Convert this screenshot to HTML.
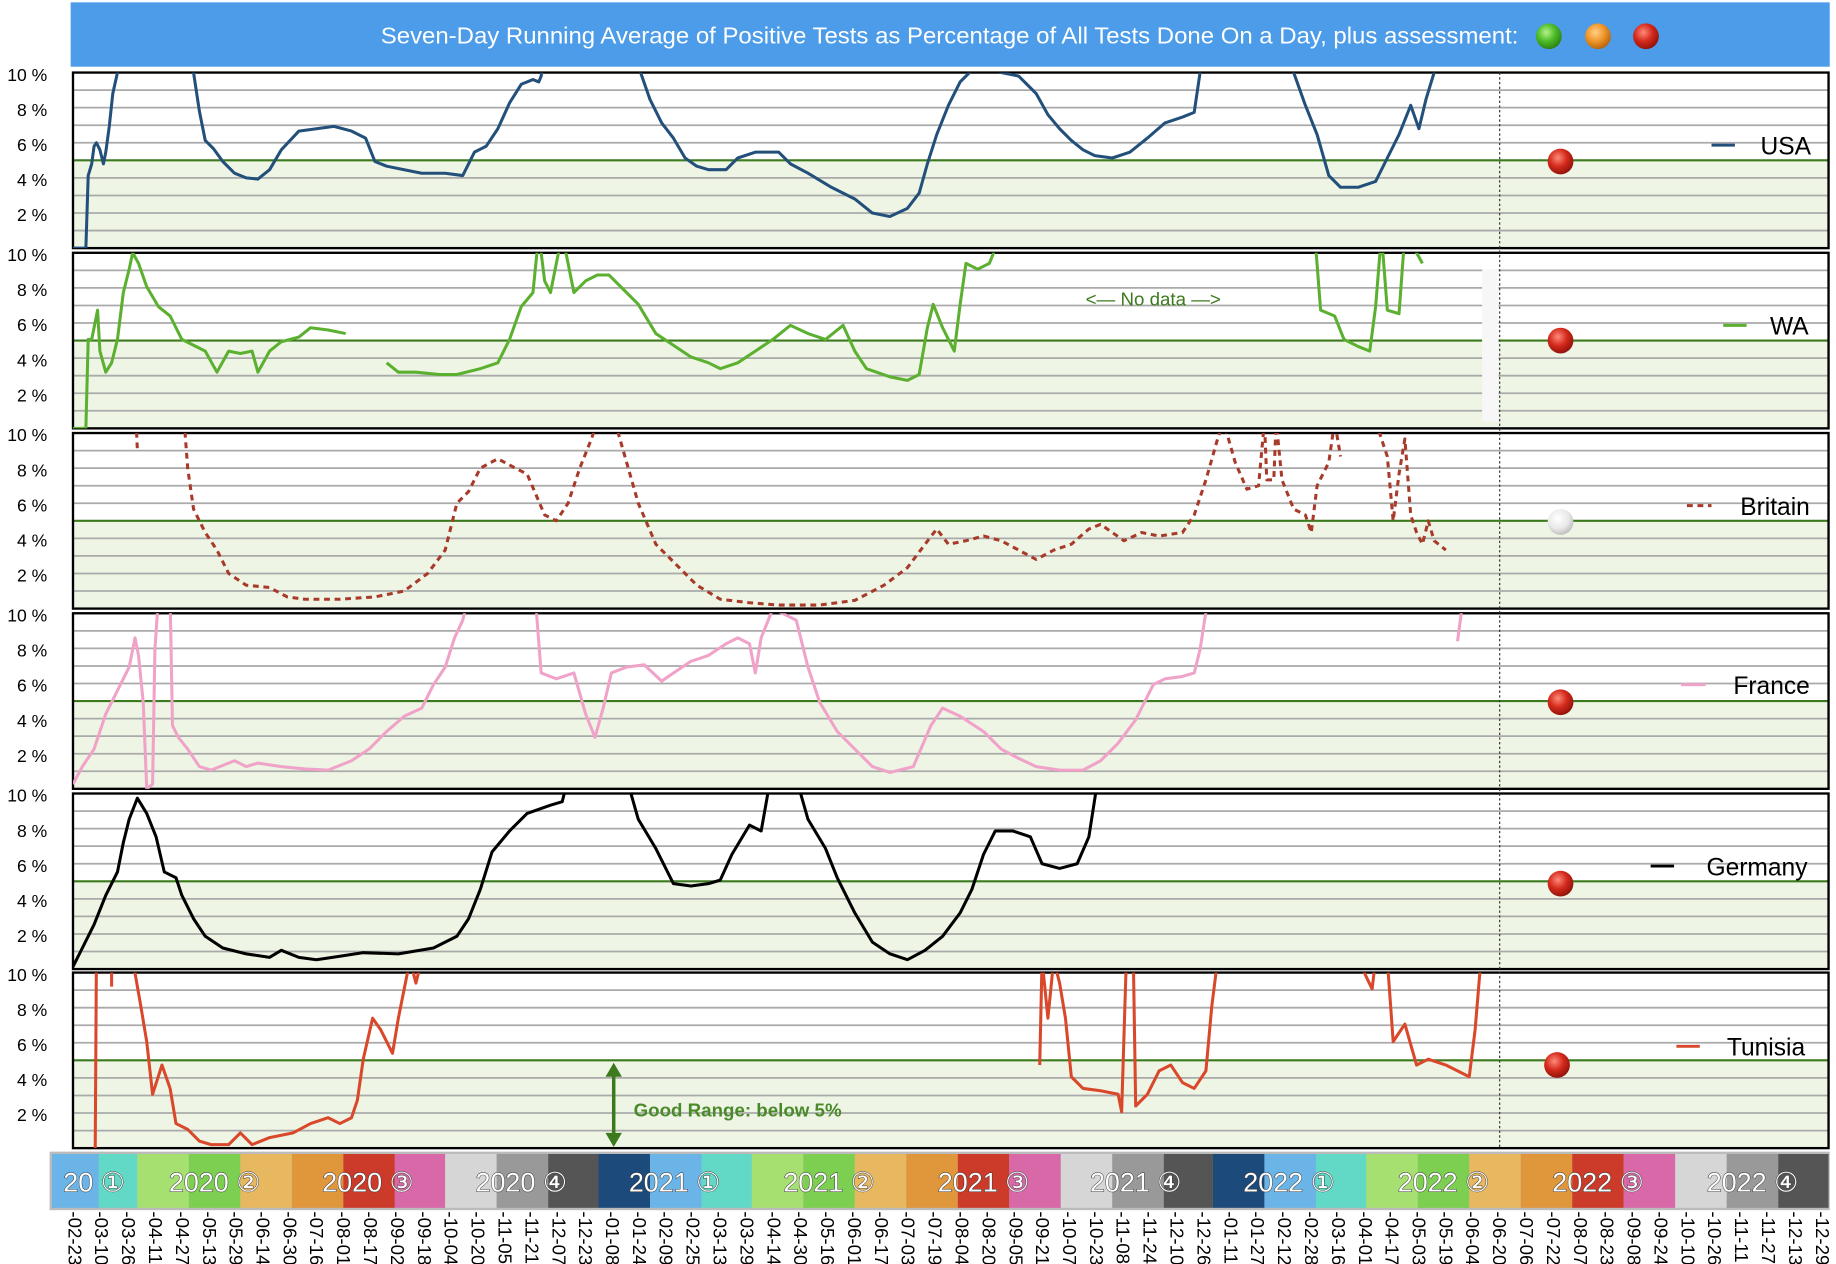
<!DOCTYPE html>
<html><head><meta charset="utf-8"><style>
html,body{margin:0;padding:0;background:#fff;}
svg{display:block;font-family:"Liberation Sans",Arial,sans-serif;}
</style></head><body>
<svg width="1836" height="1264" viewBox="0 0 1568 1080" xmlns="http://www.w3.org/2000/svg">
<defs>
<clipPath id="c0"><rect x="62" y="62" width="1500" height="150"/></clipPath>
<clipPath id="c1"><rect x="62" y="216" width="1500" height="150"/></clipPath>
<clipPath id="c2"><rect x="62" y="370" width="1500" height="150"/></clipPath>
<clipPath id="c3"><rect x="62" y="524" width="1500" height="150"/></clipPath>
<clipPath id="c4"><rect x="62" y="678" width="1500" height="150"/></clipPath>
<clipPath id="c5"><rect x="62" y="831" width="1500" height="150"/></clipPath>
<radialGradient id="rb" cx="0.4" cy="0.35" r="0.7"><stop offset="0" stop-color="#ff8a7a"/><stop offset="0.5" stop-color="#d42a1c"/><stop offset="1" stop-color="#8a1008"/></radialGradient>
<radialGradient id="gb" cx="0.4" cy="0.35" r="0.7"><stop offset="0" stop-color="#b6f28a"/><stop offset="0.5" stop-color="#4cbc28"/><stop offset="1" stop-color="#2a7a10"/></radialGradient>
<radialGradient id="ob" cx="0.4" cy="0.35" r="0.7"><stop offset="0" stop-color="#ffd08a"/><stop offset="0.5" stop-color="#f0962a"/><stop offset="1" stop-color="#b0600a"/></radialGradient>
<radialGradient id="wb" cx="0.4" cy="0.35" r="0.7"><stop offset="0" stop-color="#ffffff"/><stop offset="0.6" stop-color="#e8e8e8"/><stop offset="1" stop-color="#b8b8b8"/></radialGradient>
<g id="panel">
<rect x="62" y="0" width="1500" height="150" fill="#fff"/>
<rect x="62" y="75" width="1500" height="75" fill="#eef5e5"/>
<g stroke="#aaa" stroke-width="1.5">
<line x1="62" x2="1562" y1="15" y2="15"/><line x1="62" x2="1562" y1="30" y2="30"/><line x1="62" x2="1562" y1="45" y2="45"/><line x1="62" x2="1562" y1="60" y2="60"/>
<line x1="62" x2="1562" y1="90" y2="90"/><line x1="62" x2="1562" y1="105" y2="105"/><line x1="62" x2="1562" y1="120" y2="120"/><line x1="62" x2="1562" y1="135" y2="135"/>
</g>
<line x1="62" x2="1562" y1="75" y2="75" stroke="#3c7a1e" stroke-width="1.8"/>
<rect x="62" y="0" width="1500" height="150" fill="none" stroke="#000" stroke-width="2"/>
<g font-size="15" text-anchor="end" fill="#000">
<text x="40" y="7">10 %</text><text x="40" y="37">8 %</text><text x="40" y="67">6 %</text><text x="40" y="97">4 %</text><text x="40" y="127">2 %</text>
</g>
</g>
</defs>

<rect x="60" y="2" width="1503" height="55" fill="#4c9cea"/>
<text x="325" y="37" font-size="20" fill="#fff" textLength="972" lengthAdjust="spacingAndGlyphs">Seven-Day Running Average of Positive Tests as Percentage of All Tests Done On a Day, plus assessment:</text>
<circle cx="1323" cy="31" r="11" fill="url(#gb)"/>
<circle cx="1365" cy="31" r="11" fill="url(#ob)"/>
<circle cx="1406" cy="31" r="11" fill="url(#rb)"/>

<use href="#panel" y="62"/>
<use href="#panel" y="216"/>
<use href="#panel" y="370"/>
<use href="#panel" y="524"/>
<use href="#panel" y="678"/>
<use href="#panel" y="831"/>
<rect x="1266" y="230" width="14" height="130" fill="#f7f7f7"/>
<line x1="1281" y1="62" x2="1281" y2="981" stroke="#333" stroke-width="1" stroke-dasharray="2,2"/>

<g fill="none" stroke-width="2.6" stroke-linejoin="round">
<g clip-path="url(#c0)" stroke="#23507a">
<polyline points="62,212 73,212 75,150 78,140 80,125 82,122 85,128 88,140 90,130 93,108 96,80 100,62 104,40"/>
<polyline points="160,40 165,62 170,95 175,120 182,127 190,138 200,148 210,152 220,153 230,145 240,128 255,112 270,110 285,108 300,112 312,118 320,138 330,142 345,145 360,148 380,148 395,150 405,130 415,125 425,110 435,88 445,72 455,68 460,70 462,65 465,40"/>
<polyline points="540,40 547,62 555,85 565,105 575,118 585,135 595,142 605,145 620,145 630,135 645,130 665,130 675,140 690,148 710,160 730,170 745,182 760,185 775,178 785,165 792,140 800,115 810,90 820,70 828,62 835,40"/>
<polyline points="850,40 855,62 870,65 885,80 895,98 905,110 915,120 925,128 935,133 950,135 965,130 980,118 995,105 1010,100 1020,96 1025,62 1030,40"/>
<polyline points="1100,40 1105,62 1115,90 1125,115 1135,150 1145,160 1160,160 1175,155 1185,135 1195,115 1205,90 1212,110 1218,85 1225,62 1230,40"/>
</g>
<g clip-path="url(#c1)" stroke="#5bb030">
<polyline points="62,366 73,366 75,290 78,290 80,280 83,265 85,300 90,318 95,310 100,290 105,250 110,230 113,216 118,225 125,245 135,262 145,270 155,290 165,295 175,300 185,318 195,300 205,302 215,300 220,318 230,300 240,292 255,288 265,280 280,282 295,285"/>
<polyline points="330,310 340,318 355,318 375,320 390,320 410,315 425,310 435,290 445,262 455,250 460,200 465,240 470,250 480,200 490,250 500,240 510,235 520,235 530,245 545,260 560,285 575,295 590,305 605,310 615,315 630,310 645,300 660,290 675,278 690,285 705,290 720,278 730,300 740,315 760,322 775,325 785,320 792,280 797,260 805,280 815,300 820,260 825,225 835,230 845,225 855,200"/>
<polyline points="1123,200 1128,265 1140,270 1148,290 1160,296 1170,300 1175,262 1180,200 1185,265 1195,268 1200,200 1210,216 1215,225"/>
</g>
<g clip-path="url(#c2)" stroke="#a83a2a" stroke-dasharray="5,4">
<polyline points="116,360 117,385"/>
<polyline points="157,360 160,400 165,435 175,455 185,470 195,490 210,500 230,502 245,510 260,512 290,512 320,510 345,505 365,490 380,470 390,430 400,420 410,400 425,392 440,400 450,405 465,440 475,445 485,430 495,400 505,375 510,360"/>
<polyline points="525,360 535,395 545,430 560,465 575,480 595,500 615,512 640,515 665,517 700,517 730,513 755,500 775,485 790,465 800,452 810,465 825,462 840,458 855,462 870,470 885,478 900,470 915,465 930,452 940,448 950,455 960,462 975,455 990,458 1010,455 1020,440 1030,410 1040,375 1045,360 1055,395 1065,418 1075,415 1080,360 1082,410 1088,410 1090,360 1095,410 1105,435 1115,440 1120,455 1125,415 1135,395 1140,360 1145,390"/>
<polyline points="1175,360 1185,390 1190,445 1195,405 1200,375 1205,440 1210,455 1215,465 1220,445 1225,462 1235,470"/>
</g>
<g clip-path="url(#c3)" stroke="#f0a2c8">
<polyline points="62,670 70,655 80,640 90,610 100,590 110,570 115,545 118,560 122,600 125,674 130,670 132,555 135,510"/>
<polyline points="145,510 147,620 152,630 160,640 170,655 180,658 200,650 210,655 220,652 240,655 260,657 280,658 300,650 315,640 330,625 345,612 360,605 370,585 380,570 388,545 395,530 400,510"/>
<polyline points="457,510 462,575 475,580 490,575 500,610 508,630 515,605 522,575 535,570 550,568 565,582 575,575 590,565 605,560 620,550 630,545 640,550 645,575 650,545 660,520 670,525 680,530 690,570 700,600 715,625 730,640 745,655 760,660 780,655 795,620 805,605 820,612 840,625 855,640 870,648 885,655 905,658 925,658 940,650 955,635 970,615 985,585 995,580 1010,578 1020,575 1025,555 1032,510"/>
<polyline points="1245,548 1250,510"/>
</g>
<g clip-path="url(#c4)" stroke="#000">
<polyline points="62,826 70,810 80,790 90,765 100,745 105,720 110,700 117,682 125,695 133,715 140,745 150,750 155,765 165,785 175,800 190,810 210,815 230,818 240,812 255,818 270,820 290,817 310,814 340,815 370,810 390,800 400,785 410,760 420,728 435,710 450,695 470,688 480,685 485,665"/>
<polyline points="535,665 545,700 560,725 575,755 590,757 605,755 615,752 625,730 640,705 650,710 658,665"/>
<polyline points="680,665 690,700 705,725 715,750 730,780 745,805 760,815 775,820 790,812 805,800 820,780 830,760 840,730 850,710 865,710 880,715 890,738 905,742 920,738 930,715 937,670"/>
</g>
<g clip-path="url(#c5)" stroke="#d9482b">
<polyline points="81,981 82,820"/>
<polyline points="95,820 95,843"/>
<polyline points="113,820 120,860 125,890 130,935 138,910 145,930 150,960 160,965 170,975 180,978 195,978 205,968 215,978 230,972 250,968 265,960 280,955 290,960 300,955 305,940 310,905 318,870 325,880 335,900 340,870 345,845 350,820 355,840 360,820"/>
<polyline points="888,910 890,820 895,870 900,820 905,840 910,870 915,920 925,930 940,932 955,935 958,950 962,820 968,820 970,945 980,935 990,915 1000,910 1010,925 1020,930 1030,915 1035,860 1040,820"/>
<polyline points="1160,820 1172,845 1175,820"/>
<polyline points="1185,820 1190,890 1200,875 1210,910 1220,905 1235,910 1245,915 1255,920 1260,880 1265,820"/>
</g>
</g>

<text x="985" y="261" font-size="16" fill="#3c7a1e" text-anchor="middle">&lt;— No data —&gt;</text>

<g font-size="21" fill="#000" text-anchor="end">
<line x1="1462" x2="1482" y1="124" y2="124" stroke="#23507a" stroke-width="2.5"/><text x="1547" y="132">USA</text>
<line x1="1472" x2="1492" y1="278" y2="278" stroke="#5bb030" stroke-width="2.5"/><text x="1545" y="286">WA</text>
<line x1="1441" x2="1462" y1="432" y2="432" stroke="#a83a2a" stroke-width="2.5" stroke-dasharray="5,4"/><text x="1546" y="440">Britain</text>
<line x1="1436" x2="1457" y1="585" y2="585" stroke="#f0a2c8" stroke-width="2.5"/><text x="1546" y="593">France</text>
<line x1="1410" x2="1430" y1="740" y2="740" stroke="#000" stroke-width="2.5"/><text x="1544" y="748">Germany</text>
<line x1="1432" x2="1452" y1="894" y2="894" stroke="#d9482b" stroke-width="2.5"/><text x="1542" y="902">Tunisia</text>
</g>
<circle cx="1333" cy="138" r="11" fill="url(#rb)"/>
<circle cx="1333" cy="291" r="11" fill="url(#rb)"/>
<circle cx="1333" cy="446" r="11" fill="url(#wb)"/>
<circle cx="1333" cy="600" r="11" fill="url(#rb)"/>
<circle cx="1333" cy="755" r="11" fill="url(#rb)"/>
<circle cx="1330" cy="910" r="11" fill="url(#rb)"/>

<line x1="524" y1="918" x2="524" y2="970" stroke="#3c7a1e" stroke-width="3"/>
<polygon points="517,920 531,920 524,908" fill="#3c7a1e"/>
<polygon points="517,968 531,968 524,980" fill="#3c7a1e"/>
<text x="541" y="954" font-size="16" font-weight="bold" fill="#4a8a2a">Good Range: below 5%</text>

<rect x="42" y="984" width="1521" height="50" fill="#bbb"/>
<g>
<rect x="44" y="986" width="40" height="46" fill="#6ab4e8"/><rect x="84" y="986" width="33" height="46" fill="#62d8c6"/>
<rect x="117" y="986" width="44" height="46" fill="#a6e070"/><rect x="161" y="986" width="44" height="46" fill="#7ccf50"/><rect x="205" y="986" width="44" height="46" fill="#e8b860"/>
<rect x="249" y="986" width="44" height="46" fill="#e0963a"/><rect x="293" y="986" width="44" height="46" fill="#cc3a2a"/><rect x="337" y="986" width="43" height="46" fill="#d868a8"/>
<rect x="380" y="986" width="44" height="46" fill="#d6d6d6"/><rect x="424" y="986" width="44" height="46" fill="#999"/><rect x="468" y="986" width="43" height="46" fill="#555"/>
<rect x="511" y="986" width="44" height="46" fill="#1c4a7a"/><rect x="555" y="986" width="44" height="46" fill="#6ab4e8"/><rect x="599" y="986" width="43" height="46" fill="#62d8c6"/>
<rect x="642" y="986" width="44" height="46" fill="#a6e070"/><rect x="686" y="986" width="44" height="46" fill="#7ccf50"/><rect x="730" y="986" width="44" height="46" fill="#e8b860"/>
<rect x="774" y="986" width="44" height="46" fill="#e0963a"/><rect x="818" y="986" width="44" height="46" fill="#cc3a2a"/><rect x="862" y="986" width="44" height="46" fill="#d868a8"/>
<rect x="906" y="986" width="44" height="46" fill="#d6d6d6"/><rect x="950" y="986" width="44" height="46" fill="#999"/><rect x="994" y="986" width="42" height="46" fill="#555"/>
<rect x="1036" y="986" width="44" height="46" fill="#1c4a7a"/><rect x="1080" y="986" width="44" height="46" fill="#6ab4e8"/><rect x="1124" y="986" width="43" height="46" fill="#62d8c6"/>
<rect x="1167" y="986" width="44" height="46" fill="#a6e070"/><rect x="1211" y="986" width="44" height="46" fill="#7ccf50"/><rect x="1255" y="986" width="44" height="46" fill="#e8b860"/>
<rect x="1299" y="986" width="44" height="46" fill="#e0963a"/><rect x="1343" y="986" width="44" height="46" fill="#cc3a2a"/><rect x="1387" y="986" width="44" height="46" fill="#d868a8"/>
<rect x="1431" y="986" width="44" height="46" fill="#d6d6d6"/><rect x="1475" y="986" width="44" height="46" fill="#999"/><rect x="1519" y="986" width="43" height="46" fill="#555"/>
</g>
<g font-size="23" fill="#fff" text-anchor="middle" stroke="#333" stroke-width="0.8" paint-order="stroke">
<text x="80" y="1018">20 ①</text>
<text x="183" y="1018">2020 ②</text>
<text x="314" y="1018">2020 ③</text>
<text x="445" y="1018">2020 ④</text>
<text x="576" y="1018">2021 ①</text>
<text x="708" y="1018">2021 ②</text>
<text x="840" y="1018">2021 ③</text>
<text x="970" y="1018">2021 ④</text>
<text x="1101" y="1018">2022 ①</text>
<text x="1233" y="1018">2022 ②</text>
<text x="1365" y="1018">2022 ③</text>
<text x="1497" y="1018">2022 ④</text>
</g>

<g font-size="16" fill="#000">
<text transform="translate(58,1035) rotate(90)">-02-23</text>
<text transform="translate(81,1035) rotate(90)">-03-10</text>
<text transform="translate(103.9,1035) rotate(90)">-03-26</text>
<text transform="translate(126.9,1035) rotate(90)">-04-11</text>
<text transform="translate(149.9,1035) rotate(90)">-04-27</text>
<text transform="translate(172.9,1035) rotate(90)">-05-13</text>
<text transform="translate(195.8,1035) rotate(90)">-05-29</text>
<text transform="translate(218.8,1035) rotate(90)">-06-14</text>
<text transform="translate(241.8,1035) rotate(90)">-06-30</text>
<text transform="translate(264.7,1035) rotate(90)">-07-16</text>
<text transform="translate(287.7,1035) rotate(90)">-08-01</text>
<text transform="translate(310.7,1035) rotate(90)">-08-17</text>
<text transform="translate(333.6,1035) rotate(90)">-09-02</text>
<text transform="translate(356.6,1035) rotate(90)">-09-18</text>
<text transform="translate(379.6,1035) rotate(90)">-10-04</text>
<text transform="translate(402.6,1035) rotate(90)">-10-20</text>
<text transform="translate(425.5,1035) rotate(90)">-11-05</text>
<text transform="translate(448.5,1035) rotate(90)">-11-21</text>
<text transform="translate(471.5,1035) rotate(90)">-12-07</text>
<text transform="translate(494.4,1035) rotate(90)">-12-23</text>
<text transform="translate(517.4,1035) rotate(90)">-01-08</text>
<text transform="translate(540.4,1035) rotate(90)">-01-24</text>
<text transform="translate(563.3,1035) rotate(90)">-02-09</text>
<text transform="translate(586.3,1035) rotate(90)">-02-25</text>
<text transform="translate(609.3,1035) rotate(90)">-03-13</text>
<text transform="translate(632.3,1035) rotate(90)">-03-29</text>
<text transform="translate(655.2,1035) rotate(90)">-04-14</text>
<text transform="translate(678.2,1035) rotate(90)">-04-30</text>
<text transform="translate(701.2,1035) rotate(90)">-05-16</text>
<text transform="translate(724.1,1035) rotate(90)">-06-01</text>
<text transform="translate(747.1,1035) rotate(90)">-06-17</text>
<text transform="translate(770.1,1035) rotate(90)">-07-03</text>
<text transform="translate(793,1035) rotate(90)">-07-19</text>
<text transform="translate(816,1035) rotate(90)">-08-04</text>
<text transform="translate(839,1035) rotate(90)">-08-20</text>
<text transform="translate(862,1035) rotate(90)">-09-05</text>
<text transform="translate(884.9,1035) rotate(90)">-09-21</text>
<text transform="translate(907.9,1035) rotate(90)">-10-07</text>
<text transform="translate(930.9,1035) rotate(90)">-10-23</text>
<text transform="translate(953.8,1035) rotate(90)">-11-08</text>
<text transform="translate(976.8,1035) rotate(90)">-11-24</text>
<text transform="translate(999.8,1035) rotate(90)">-12-10</text>
<text transform="translate(1022.7,1035) rotate(90)">-12-26</text>
<text transform="translate(1045.7,1035) rotate(90)">-01-11</text>
<text transform="translate(1068.7,1035) rotate(90)">-01-27</text>
<text transform="translate(1091.7,1035) rotate(90)">-02-12</text>
<text transform="translate(1114.6,1035) rotate(90)">-02-28</text>
<text transform="translate(1137.6,1035) rotate(90)">-03-16</text>
<text transform="translate(1160.6,1035) rotate(90)">-04-01</text>
<text transform="translate(1183.5,1035) rotate(90)">-04-17</text>
<text transform="translate(1206.5,1035) rotate(90)">-05-03</text>
<text transform="translate(1229.5,1035) rotate(90)">-05-19</text>
<text transform="translate(1252.4,1035) rotate(90)">-06-04</text>
<text transform="translate(1275.4,1035) rotate(90)">-06-20</text>
<text transform="translate(1298.4,1035) rotate(90)">-07-06</text>
<text transform="translate(1321.4,1035) rotate(90)">-07-22</text>
<text transform="translate(1344.3,1035) rotate(90)">-08-07</text>
<text transform="translate(1367.3,1035) rotate(90)">-08-23</text>
<text transform="translate(1390.3,1035) rotate(90)">-09-08</text>
<text transform="translate(1413.2,1035) rotate(90)">-09-24</text>
<text transform="translate(1436.2,1035) rotate(90)">-10-10</text>
<text transform="translate(1459.2,1035) rotate(90)">-10-26</text>
<text transform="translate(1482.1,1035) rotate(90)">-11-11</text>
<text transform="translate(1505.1,1035) rotate(90)">-11-27</text>
<text transform="translate(1528.1,1035) rotate(90)">-12-13</text>
<text transform="translate(1551.1,1035) rotate(90)">-12-29</text>
</g>
</svg>
</body></html>
